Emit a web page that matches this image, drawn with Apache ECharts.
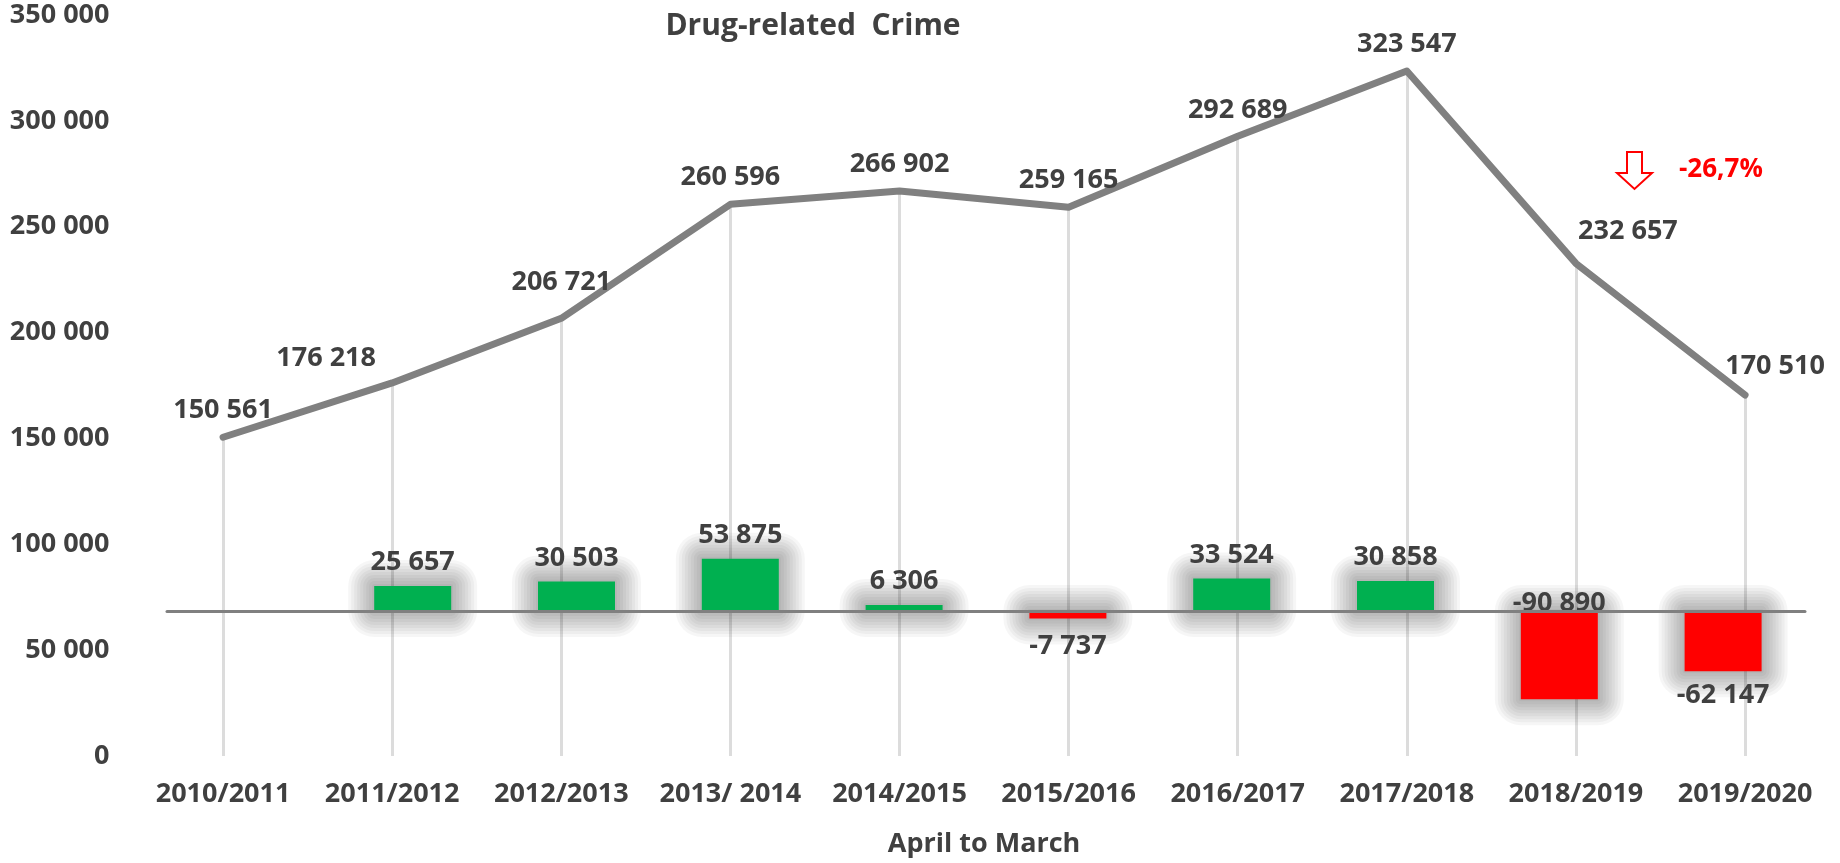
<!DOCTYPE html>
<html>
<head>
<meta charset="utf-8">
<script src="https://cdn.jsdelivr.net/npm/echarts@6/dist/echarts.min.js"></script>
<style>
html,body{margin:0;padding:0;background:#fff;}
#chart{width:1840px;height:863px;}
</style>
</head>
<body>
<div id="chart"></div>
<script>
// ---- data ----
const categories = ['2010/2011','2011/2012','2012/2013','2013/ 2014','2014/2015','2015/2016','2016/2017','2017/2018','2018/2019','2019/2020'];
const totalCrimes = [150561, 176218, 206721, 260596, 266902, 259165, 292689, 323547, 232657, 170510];
const yearChange = [null, 25657, 30503, 53875, 6306, -7737, 33524, 30858, -90890, -62147];
const yTicks = [0, 50000, 100000, 150000, 200000, 250000, 300000, 350000];
const changeText = '-26,7%';

// ---- presentation (not data) ----
const lineLabelOffsets = [[0,0],[-66,2],[0,-10],[0,0],[0,0],[0,0],[0,0],[0,0],[52,-6],[30,-2]];
const barLabelPositions = ['top','top','top','top','top','bottom','top','top','top','bottom'];
const barLabelDistances = [10,10,10,10,10,14,10,10,-6,10];
const BAR_W = 77;
const glowLayers = [26, 23, 20, 17, 14, 11, 8, 5, 2]; // glow spread in px

const FONT = 'Open Sans';
const TXT = '#404040';
const fmt = v => String(Math.round(v)).replace(/\B(?=(\d{3})+(?!\d))/g, ' ');

const chart = echarts.init(document.getElementById('chart'), null, {renderer:'canvas'});

function renderGlow(params, api) {
  const v = api.value(1);
  if (v === null || v === undefined || isNaN(v)) return null;
  const i = api.value(0);
  const p0 = api.coord([i, 0]);
  const p1 = api.coord([i, v]);
  const x = p0[0] - BAR_W / 2;
  const y = Math.min(p0[1], p1[1]);
  const h = Math.abs(p1[1] - p0[1]);
  return {
    type: 'group',
    children: glowLayers.map(r => ({
      type: 'rect',
      shape: {x: x - r, y: y - r, width: BAR_W + 2 * r, height: h + 2 * r, r: r},
      style: {fill: 'rgba(0,0,0,0.036)'}
    }))
  };
}

const option = {
  backgroundColor: '#ffffff',
  animation: false,
  title: {
    text: 'Drug-related  Crime',
    left: 808, top: 6, textAlign: 'center',
    textStyle: {fontFamily: FONT, fontWeight: 'bold', fontSize: 30, color: TXT}
  },
  grid: [
    {left: 138.5, right: 10.4, top: 15, bottom: 103},
    {left: 167, right: 35, top: 15, bottom: 103}
  ],
  xAxis: [
    {
      type: 'category', gridIndex: 0, data: categories, boundaryGap: true,
      axisLine: {show: false}, axisTick: {show: false}, splitLine: {show: false},
      axisLabel: {fontFamily: FONT, fontWeight: 'bold', fontSize: 27, color: TXT, margin: 22, lineHeight: 32, interval: 0},
      name: 'April to March', nameLocation: 'middle', nameGap: 75,
      nameTextStyle: {fontFamily: FONT, fontWeight: 'bold', fontSize: 27, color: TXT}
    },
    {
      type: 'category', gridIndex: 1, data: categories, boundaryGap: true, z: 4,
      axisLine: {show: true, onZero: true, lineStyle: {color: '#808080', width: 3}},
      axisTick: {show: false}, axisLabel: {show: false}, splitLine: {show: false}
    }
  ],
  yAxis: [
    {
      type: 'value', gridIndex: 0, min: yTicks[0], max: yTicks[yTicks.length-1],
      interval: yTicks[1] - yTicks[0],
      axisLine: {show: false}, axisTick: {show: false}, splitLine: {show: false},
      axisLabel: {fontFamily: FONT, fontWeight: 'bold', fontSize: 27, color: TXT, margin: 29, formatter: fmt}
    },
    {
      type: 'value', gridIndex: 1, min: -153500, max: 614000, show: false,
      splitLine: {show: false}
    }
  ],
  graphic: [
    {
      type: 'polygon', z: 100,
      shape: {points: [[1627,152],[1642,152],[1642,173],[1652,173],[1634.5,189],[1617,173],[1627,173]]},
      style: {fill: '#ffffff', stroke: '#ff0000', lineWidth: 2}
    },
    {
      type: 'text', z: 100, left: 1679, top: 157,
      style: {text: changeText, fill: '#ff0000', font: 'bold 26px "Open Sans"'}
    }
  ],
  series: [
    {
      // drop lines from each point to the category axis
      type: 'line', xAxisIndex: 0, yAxisIndex: 0, z: 1,
      data: totalCrimes, symbol: 'none', lineStyle: {width: 0, opacity: 0}, silent: true,
      markLine: {
        silent: true, z: 1, symbol: ['none','none'], animation: false,
        label: {show: false},
        emphasis: {disabled: true},
        lineStyle: {color: '#dcdcdc', width: 3, type: 'solid'},
        data: totalCrimes.map((v, i) => [{coord: [i, 0]}, {coord: [i, v]}])
      }
    },
    {
      // soft glow behind the change bars
      type: 'custom', xAxisIndex: 1, yAxisIndex: 1, z: 2, silent: true, clip: false,
      data: yearChange.map((v, i) => [i, v === null ? NaN : v]),
      renderItem: renderGlow
    },
    {
      type: 'bar', xAxisIndex: 1, yAxisIndex: 1, z: 3,
      barWidth: BAR_W, clip: false,
      data: yearChange.map((v, i) => v === null ? null : {
        value: v,
        itemStyle: {color: v >= 0 ? '#00b050' : '#ff0000'},
        label: {position: barLabelPositions[i], distance: barLabelDistances[i]}
      }),
      label: {
        show: true,
        fontFamily: FONT, fontWeight: 'bold', fontSize: 27, color: TXT,
        formatter: p => fmt(p.value)
      }
    },
    {
      type: 'line', xAxisIndex: 0, yAxisIndex: 0, z: 5,
      data: totalCrimes.map((v, i) => ({value: v, label: {offset: lineLabelOffsets[i]}})),
      symbol: 'circle', symbolSize: 2, showSymbol: true,
      itemStyle: {color: '#808080'},
      lineStyle: {color: '#808080', width: 7, cap: 'round', join: 'round'},
      label: {
        show: true, position: 'top', distance: 12,
        fontFamily: FONT, fontWeight: 'bold', fontSize: 27, color: TXT,
        formatter: p => fmt(p.value)
      }
    }
  ]
};
chart.setOption(option);
</script>
</body>
</html>
